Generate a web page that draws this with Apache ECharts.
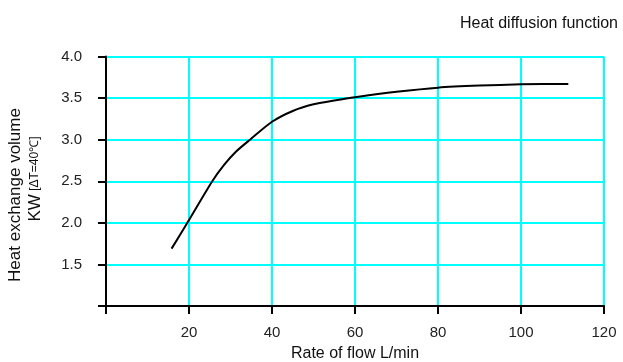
<!DOCTYPE html>
<html>
<head>
<meta charset="utf-8">
<script src="https://cdn.jsdelivr.net/npm/echarts@6/dist/echarts.min.js"></script>
<style>
html,body{margin:0;padding:0;background:#fff;}
#chart{width:623px;height:362px;}
</style>
</head>
<body>
<div id="chart"></div>
<script>
var titleText = 'Heat diffusion function';
var xAxisName = 'Rate of flow L/min';
var yNameLine1 = 'Heat exchange volume';
var yNameLine2a = 'KW';
var yNameLine2b = '[ΔT=40℃]';
var xTicks = [0, 20, 40, 60, 80, 100, 120];
var yTicks = [1.0, 1.5, 2.0, 2.5, 3.0, 3.5, 4.0];
var flowRate = [15.8, 19.6, 25.6, 28.5, 31.3, 34.7, 40, 45, 50, 55, 60, 70, 80, 90, 100, 111.4];
var heatVolume = [1.69, 2.0, 2.5, 2.7, 2.855, 3.0, 3.215, 3.345, 3.425, 3.47, 3.51, 3.575, 3.625, 3.65, 3.665, 3.67];

var pts = flowRate.map(function (x, i) { return [x, heatVolume[i]]; });
var FONT = 'Liberation Sans, Arial, sans-serif';
var chart = echarts.init(document.getElementById('chart'));
chart.setOption({
  animation: false,
  backgroundColor: '#fff',
  title: {
    text: titleText, right: 0, top: 11,
    textStyle: { fontFamily: FONT, fontSize: 16, fontWeight: 'normal', color: '#111' }
  },
  grid: { left: 106, right: 19, top: 56.5, bottom: 56, containLabel: false, outerBoundsMode: 'none' },
  xAxis: {
    type: 'value', min: xTicks[0], max: xTicks[xTicks.length - 1], interval: 20,
    name: xAxisName, nameLocation: 'middle', nameGap: 40,
    nameTextStyle: { fontFamily: FONT, fontSize: 16, color: '#111' },
    axisLine: { show: true, onZero: false, lineStyle: { color: '#000', width: 2 } },
    axisTick: { show: true, length: 8, lineStyle: { color: '#000', width: 2 } },
    axisLabel: {
      margin: 19, fontFamily: FONT, fontSize: 15, color: '#222',
      formatter: function (v) { return v === 0 ? '' : String(v); }
    },
    splitLine: { show: true, lineStyle: { color: '#00FFFF', width: 2 } }
  },
  yAxis: {
    type: 'value', min: yTicks[0], max: yTicks[yTicks.length - 1], interval: 0.5,
    axisLine: { show: true, onZero: false, lineStyle: { color: '#000', width: 2 } },
    axisTick: { show: true, length: 8, lineStyle: { color: '#000', width: 2 } },
    axisLabel: {
      margin: 24, fontFamily: FONT, fontSize: 15, color: '#222',
      formatter: function (v) { return v === 1 ? '' : v.toFixed(1); }
    },
    splitLine: { show: true, lineStyle: { color: '#00FFFF', width: 2 } }
  },
  graphic: [
    {
      type: 'text', x: 15, y: 195, rotation: Math.PI / 2,
      style: { text: yNameLine1, font: '17px ' + FONT, fill: '#111', textAlign: 'center', textVerticalAlign: 'middle' }
    },
    {
      type: 'text', x: 35, y: 179, rotation: Math.PI / 2,
      style: {
        text: '{a|' + yNameLine2a + '} {b|' + yNameLine2b + '}',
        textAlign: 'center', textVerticalAlign: 'middle',
        rich: {
          a: { fontFamily: FONT, fontSize: 17, fill: '#111', color: '#111' },
          b: { fontFamily: FONT, fontSize: 12, fill: '#111', color: '#111' }
        }
      }
    }
  ],
  series: [{
    type: 'line', data: pts, showSymbol: false, smooth: 0.25,
    lineStyle: { color: '#000', width: 2 }, z: 5
  }]
});
</script>
</body>
</html>
